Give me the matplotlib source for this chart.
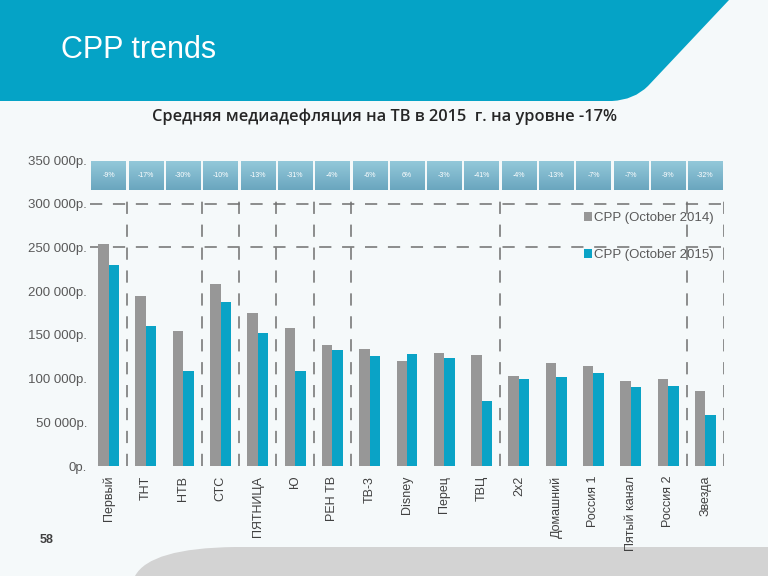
import numpy as np
import matplotlib
matplotlib.use("Agg")
import matplotlib.pyplot as plt
from matplotlib.path import Path
from matplotlib.patches import PathPatch
from matplotlib.colors import LinearSegmentedColormap

# ------------------------------- dados -------------------------------
canais = ["Первый", "ТНТ", "НТВ", "СТС", "ПЯТНИЦА", "Ю", "РЕН ТВ", "ТВ-3",
          "Disney", "Перец", "ТВЦ", "2x2", "Домашний", "Россия 1",
          "Пятый канал", "Россия 2", "Звезда"]
cpp_2014 = [254000, 194500, 154000, 208000, 175000, 158000, 138000, 134000,
            120000, 129000, 127000, 103000, 118000, 114000, 97000, 99500, 86000]
cpp_2015 = [230000, 160000, 108500, 187500, 152000, 108500, 133000, 126000,
            128000, 124000, 74000, 99500, 102000, 106000, 90000, 91000, 58000]
variacao = ["-9%", "-17%", "-30%", "-10%", "-13%", "-31%", "-4%", "-6%", "6%",
            "-3%", "-41%", "-4%", "-13%", "-7%", "-7%", "-9%", "-32%"]
yticks = [0, 50000, 100000, 150000, 200000, 250000, 300000, 350000]
ytick_labels = ["0р.", "50 000р.", "100 000р.", "150 000р.", "200 000р.",
                "250 000р.", "300 000р.", "350 000р."]
divisorias = [0, 2, 3, 4, 5, 6, 10, 15, 16]  # linha tracejada depois destes
linhas_h = [250000, 300000]

plt.rcParams['font.family'] = ['Liberation Sans', 'DejaVu Sans']

fig = plt.figure(figsize=(7.68, 5.76), dpi=100)
fig.patch.set_facecolor('#f5f9fa')

# ------------------------------- fundo -------------------------------
bg = fig.add_axes([0, 0, 1, 1], zorder=-1)
bg.set_xlim(0, 768)
bg.set_ylim(576, 0)
bg.axis('off')

faixa = Path([(0, 0), (729, 0), (648, 86), (634, 100), (612, 101), (0, 101), (0, 0)],
             [Path.MOVETO, Path.LINETO, Path.LINETO, Path.CURVE3, Path.CURVE3,
              Path.LINETO, Path.CLOSEPOLY])
bg.add_patch(PathPatch(faixa, facecolor='#05a3c6', edgecolor='none'))

rodape = Path([(768, 576), (135, 576), (150, 548), (235, 547), (768, 547), (768, 576)],
              [Path.MOVETO, Path.LINETO, Path.CURVE3, Path.CURVE3, Path.LINETO,
               Path.CLOSEPOLY])
bg.add_patch(PathPatch(rodape, facecolor='#d3d3d3', edgecolor='none'))

bg.text(61, 50, "CPP trends", color='white', fontsize=22, va='center', ha='left')
bg.text(384, 117, "Средняя медиадефляция на ТВ в 2015  г. на уровне -17%",
        color='#262626', fontsize=11.8, fontweight='semibold', ha='center',
        va='center', family=['Open Sans', 'DejaVu Sans'])
bg.text(40, 540, "58", color='#404040', fontsize=9, fontweight='bold',
        ha='left', va='center')

# ------------------------------- grafico -------------------------------
ax = fig.add_axes([90 / 768, 1 - 466 / 576, 634 / 768, 306 / 576])
ax.patch.set_alpha(0)
x = np.arange(len(canais))
w = 0.28
ax.bar(x - w / 2, cpp_2014, w, color='#979797', label='CPP (October 2014)', zorder=3)
ax.bar(x + w / 2, cpp_2015, w, color='#0aa3c6', label='CPP (October 2015)', zorder=3)

for d in divisorias:
    ax.plot([d + 0.5, d + 0.5], [0, 307000], color='#6f6f6f', lw=1.1,
            dashes=(8, 7), zorder=2)
for h in linhas_h:
    ax.plot([-0.5, 16.5], [h, h], color='#6f6f6f', lw=1.1, dashes=(8, 7), zorder=2)

# caixas com a variacao
cmap_caixa = LinearSegmentedColormap.from_list('caixa', ['#6aa6be', '#93c8da'])
grad = np.linspace(0, 1, 50).reshape(-1, 1)
for i, txt in enumerate(variacao):
    ax.imshow(grad, extent=[i - 0.46, i + 0.46, 316000, 349000], origin='lower',
              cmap=cmap_caixa, aspect='auto', zorder=4)
    ax.text(i, 332500, txt, color='white', fontsize=5, ha='center', va='center',
            zorder=5)

ax.set_xlim(-0.5, 16.5)
ax.set_ylim(0, 350000)
ax.set_yticks(yticks)
ax.set_yticklabels(ytick_labels, color='#595959', fontsize=9.5)
ax.set_xticks(x)
ax.set_xticklabels(canais, rotation=90, color='#404040', fontsize=9)
ax.tick_params(axis='y', length=0, pad=2)
ax.tick_params(axis='x', length=0, pad=7)
for s in ax.spines.values():
    s.set_visible(False)

leg = ax.legend(loc='upper left', bbox_to_anchor=(0.76, 0.868), frameon=False,
                fontsize=9.5, labelspacing=1.9, handlelength=0.6, handleheight=0.6,
                handletextpad=0.2)
for t in leg.get_texts():
    t.set_color('#595959')

fig.savefig('out.png', dpi=100, facecolor=fig.get_facecolor())
